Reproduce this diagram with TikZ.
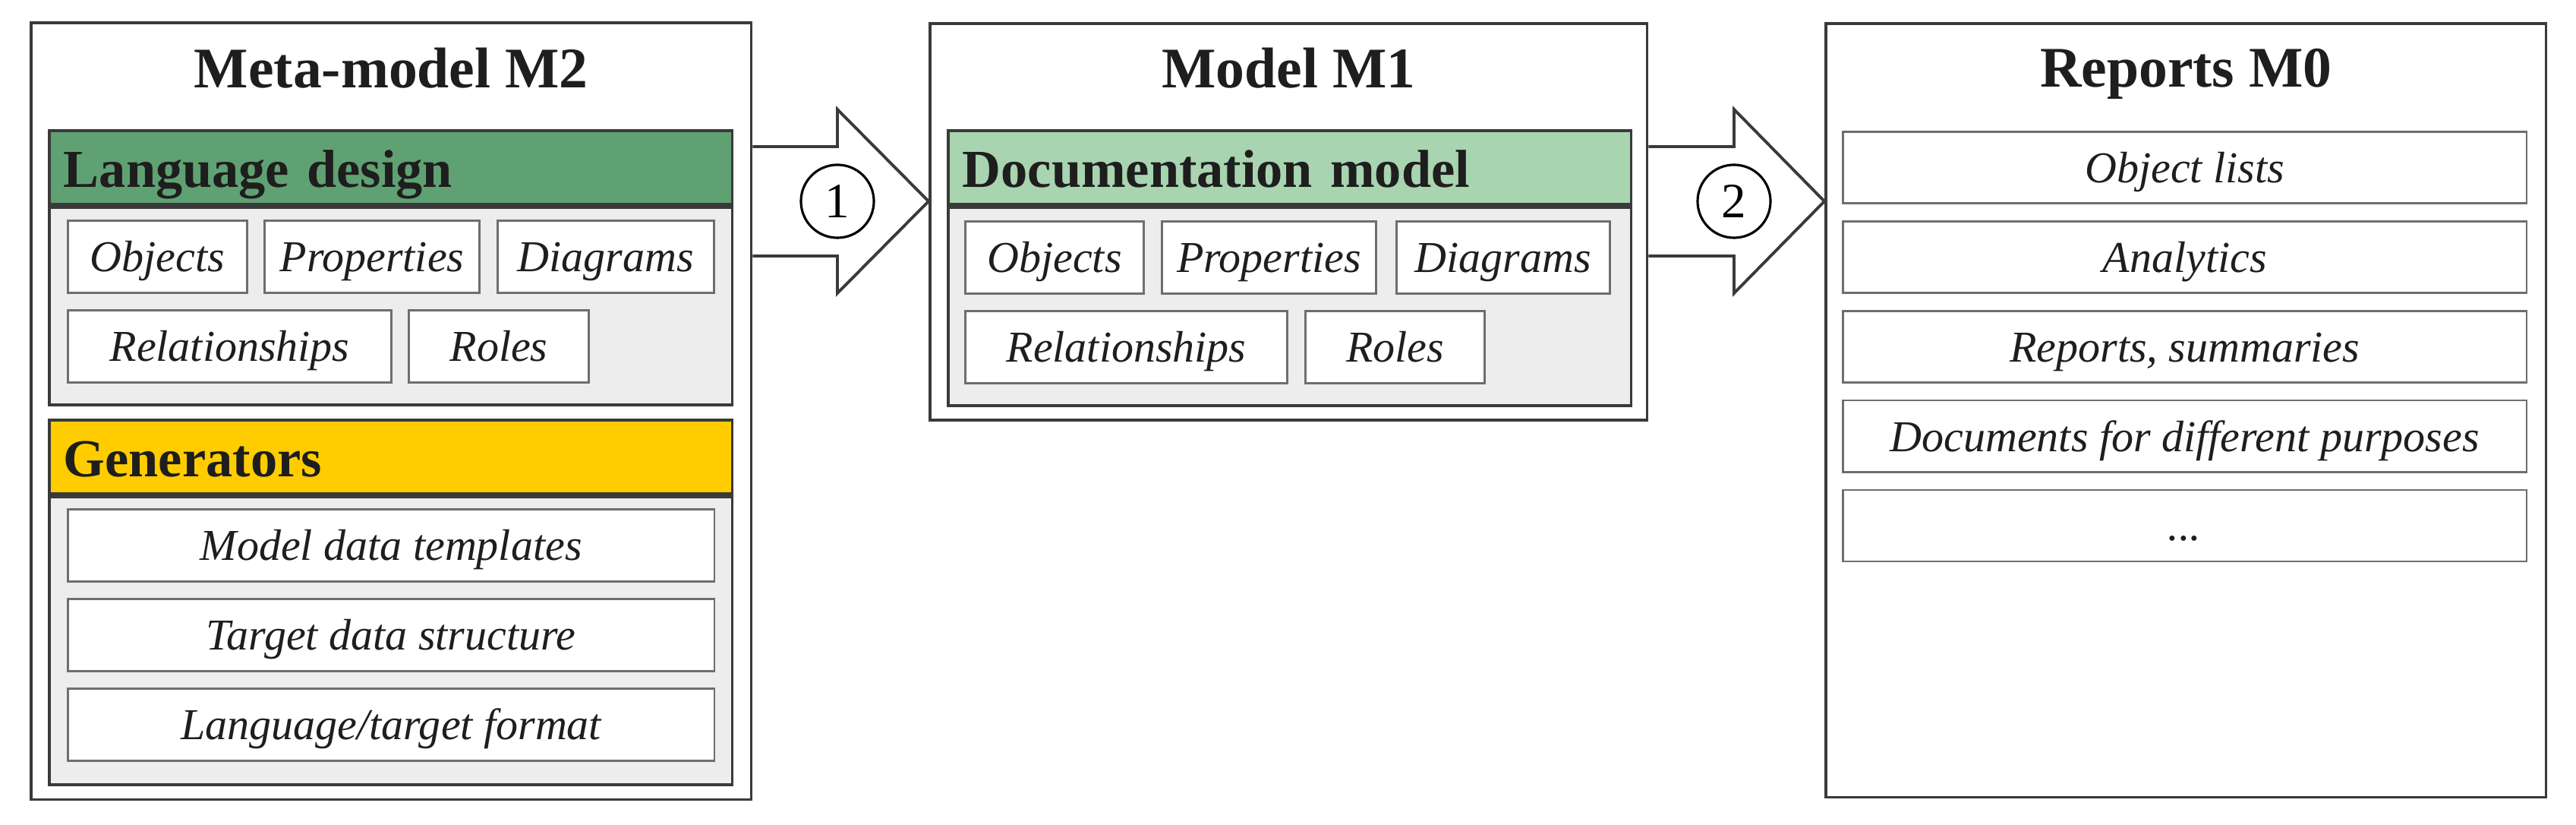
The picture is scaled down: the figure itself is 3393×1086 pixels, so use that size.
\documentclass[tikz,border=0pt]{standalone}
\usepackage{fontspec}
\setmainfont{Liberation Serif}
\usetikzlibrary{positioning, calc, backgrounds}

\definecolor{langgreen}{RGB}{96,161,115}
\definecolor{docgreen}{RGB}{168,212,176}
\definecolor{genyellow}{RGB}{255,204,0}
\definecolor{bodygray}{RGB}{236,237,236}
\definecolor{linegray}{RGB}{58,58,58}
\definecolor{itemgray}{RGB}{110,110,110}
\definecolor{textdark}{RGB}{30,30,30}

\begin{document}
\begin{tikzpicture}[
  x=0.01cm, y=-0.01cm,
  panel/.style={
    draw=linegray,
    line width=1.1pt,
    fill=white,
    anchor=north west,
    inner sep=0pt
  },
  paneltitle/.style={
    font=\fontsize{21.5}{25}\selectfont\bfseries,
    text=textdark,
    anchor=base
  },
  header/.style={
    draw=linegray,
    line width=1.1pt,
    anchor=north west,
    minimum height=0.97cm,
    text width=8.61cm,
    inner xsep=0.19cm,
    inner ysep=0pt,
    text height=15pt,
    text depth=0pt,
    align=left,
    font=\fontsize{20}{24}\selectfont\bfseries,
    text=textdark
  },
  body/.style={
    draw=linegray,
    line width=1.1pt,
    fill=bodygray,
    anchor=north west,
    minimum width=8.99cm,
    inner sep=0pt
  },
  item/.style={
    draw=itemgray,
    line width=0.8pt,
    fill=white,
    anchor=north west,
    minimum height=0.95cm,
    inner sep=0pt,
    text height=13pt,
    text depth=1.6pt,
    font=\fontsize{16.5}{20}\selectfont\itshape,
    text=textdark
  },
  blockarrow/.style={draw=linegray, line width=1.1pt, fill=white, line join=miter},
  stepnum/.style={
    circle,
    draw=black,
    line width=0.9pt,
    fill=white,
    minimum size=0.96cm,
    inner sep=0pt,
    font=\fontsize{18.5}{22}\selectfont
  }
]

\useasboundingbox (0,0) rectangle (3393,1086);

% three levels
\node[panel, minimum width=9.48cm, minimum height=10.22cm] (meta) at (39,28) {};
\node[panel, minimum width=9.44cm, minimum height=5.22cm] (model) at (1223,29) {};
\node[panel, minimum width=9.48cm, minimum height=10.18cm] (reports) at (2403,29) {};

\node[paneltitle] (metaT) at ($(meta.north)+(0,88)$) {Meta-model M2};
\node[paneltitle] (modelT) at ($(model.north)+(0,87)$) {Model M1};
\node[paneltitle] (reportsT) at ($(reports.north)+(0,86)$) {Reports M0};

% meta-model: language design
\node[header, fill=langgreen] (lang) at (63,170) {Language design};
\node[body, minimum height=2.6cm] (langB) at (lang.south west) {};
\node[item, minimum width=2.36cm] (lObj) at (88,289) {Objects};
\node[item, minimum width=2.83cm, right=0.2cm of lObj] (lProp) {Properties};
\node[item, minimum width=2.85cm, right=0.21cm of lProp] (lDiag) {Diagrams};
\node[item, minimum width=4.26cm, below right=0.2cm and 0cm of lObj.south west] (lRel) {Relationships};
\node[item, minimum width=2.37cm, right=0.2cm of lRel] (lRole) {Roles};

% meta-model: generators
\node[header, fill=genyellow] (gen) at (63,551) {Generators};
\node[body, minimum height=3.79cm] (genB) at (gen.south west) {};
\node[item, minimum width=8.51cm] (gTpl) at (88,669) {Model data templates};
\node[item, minimum width=8.51cm, below=0.2cm of gTpl] (gStruct) {Target data structure};
\node[item, minimum width=8.51cm, below=0.2cm of gStruct] (gFmt) {Language/target format};

% model: documentation model
\node[header, fill=docgreen] (doc) at (1247,170) {Documentation model};
\node[body, minimum height=2.61cm] (docB) at (doc.south west) {};
\node[item, minimum width=2.35cm] (mObj) at (1270,290) {Objects};
\node[item, minimum width=2.82cm, right=0.21cm of mObj] (mProp) {Properties};
\node[item, minimum width=2.81cm, right=0.24cm of mProp] (mDiag) {Diagrams};
\node[item, minimum width=4.24cm, below right=0.2cm and 0cm of mObj.south west] (mRel) {Relationships};
\node[item, minimum width=2.36cm, right=0.21cm of mRel] (mRole) {Roles};

% reports
\node[item, minimum width=9cm, minimum height=0.94cm] (rObj) at (2426,172) {Object lists};
\node[item, minimum width=9cm, minimum height=0.94cm, below=0.21cm of rObj] (rAna) {Analytics};
\node[item, minimum width=9cm, minimum height=0.94cm, below=0.21cm of rAna] (rSum) {Reports, summaries};
\node[item, minimum width=9cm, minimum height=0.94cm, below=0.21cm of rSum] (rDoc) {Documents for different purposes};
\node[item, minimum width=9cm, minimum height=0.94cm, below=0.21cm of rDoc] (rMore) {...};

% transformations 1 and 2
\coordinate (a1) at (1103,265);
\coordinate (a2) at (2284,265);
\begin{scope}[on background layer]
\draw[blockarrow] ($(meta.east |- a1)+(0,-72)$) -- ($(a1)+(0,-72)$) -- ($(a1)+(0,-121)$)
  -- (model.west |- a1) -- ($(a1)+(0,121)$) -- ($(a1)+(0,72)$) -- ($(meta.east |- a1)+(0,72)$);
\draw[blockarrow] ($(model.east |- a2)+(0,-72)$) -- ($(a2)+(0,-72)$) -- ($(a2)+(0,-121)$)
  -- (reports.west |- a2) -- ($(a2)+(0,121)$) -- ($(a2)+(0,72)$) -- ($(model.east |- a2)+(0,72)$);
\end{scope}
\node[stepnum] (n1) at (a1) {1};
\node[stepnum] (n2) at (a2) {2};

\end{tikzpicture}
\end{document}
